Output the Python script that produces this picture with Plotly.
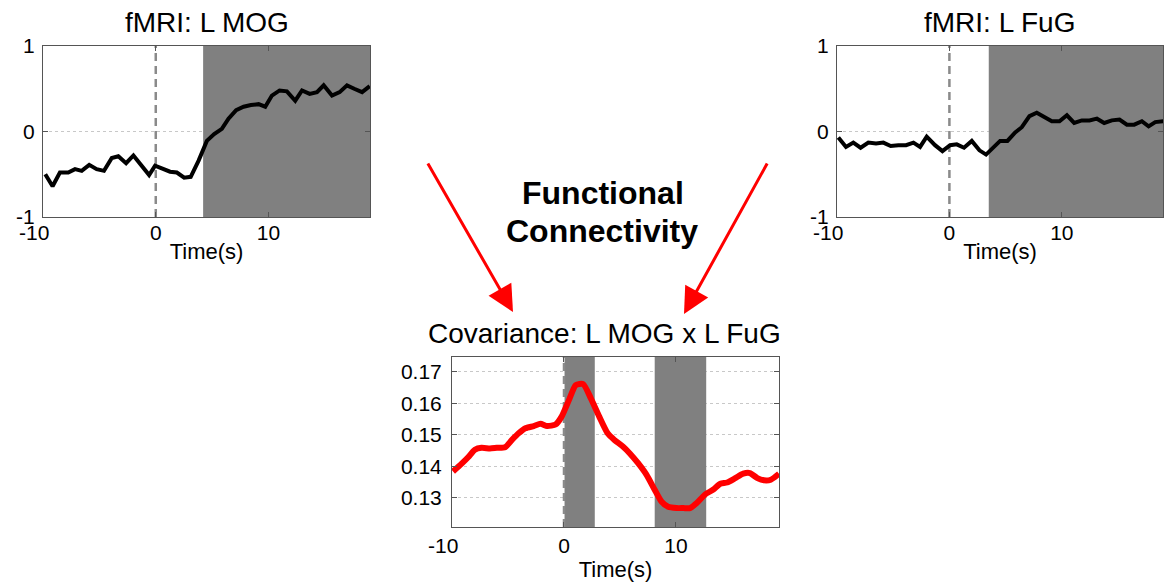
import plotly.graph_objects as go

# ---------------- data ----------------
mog_t = [-9.8, -9.15, -8.5, -7.76, -7.16, -6.57, -5.9, -5.24, -4.59, -3.9,
         -3.32, -2.63, -1.98, -1.24, -0.59, -0.06, 0.59, 1.27, 1.87, 2.52,
         3.1, 3.8, 4.53, 5.18, 5.86, 6.45, 7.13, 7.79, 8.44, 9.12,
         9.71, 10.3, 10.98, 11.63, 12.37, 12.97, 13.65, 14.3, 14.89, 15.63,
         16.31, 16.96, 17.6, 18.3, 18.98]
mog_v = [-0.50, -0.64, -0.48, -0.48, -0.44, -0.46, -0.39, -0.44, -0.46, -0.31,
         -0.29, -0.37, -0.28, -0.40, -0.51, -0.40, -0.44, -0.47, -0.48, -0.54,
         -0.53, -0.34, -0.11, -0.03, 0.03, 0.15, 0.25, 0.29, 0.31, 0.32,
         0.29, 0.42, 0.48, 0.47, 0.36, 0.48, 0.44, 0.46, 0.54, 0.42,
         0.46, 0.54, 0.50, 0.46, 0.53]

fug_t = [-9.88, -9.2, -8.55, -7.9, -7.21, -6.53, -5.88, -5.22, -4.54, -3.86,
         -3.2, -2.61, -2.02, -1.28, -0.62, 0.06, 0.65, 1.3, 1.99, 2.67,
         3.26, 3.92, 4.51, 5.16, 5.85, 6.44, 7.12, 7.77, 8.52, 9.11,
         9.79, 10.45, 11.1, 11.78, 12.46, 13.12, 13.77, 14.45, 15.13, 15.79,
         16.44, 17.12, 17.72, 18.31, 19.05]
fug_v = [-0.07, -0.18, -0.13, -0.19, -0.13, -0.14, -0.13, -0.17, -0.16, -0.16,
         -0.13, -0.18, -0.06, -0.16, -0.23, -0.16, -0.15, -0.19, -0.11, -0.22,
         -0.27, -0.18, -0.11, -0.11, -0.01, 0.05, 0.18, 0.22, 0.16, 0.12,
         0.12, 0.19, 0.10, 0.13, 0.13, 0.15, 0.10, 0.13, 0.14, 0.08,
         0.08, 0.12, 0.06, 0.11, 0.12]

cov_t = [-9.91, -9.16, -8.56, -7.96, -7.36, -6.61, -6.0, -5.26, -4.65, -4.05,
         -3.45, -2.7, -2.1, -1.5, -0.75, -0.21, 0.45, 1.05, 1.71, 2.4,
         3.15, 3.9, 4.5, 5.26, 5.86, 6.6, 7.36, 8.1, 8.7, 9.3,
         10.06, 10.66, 11.26, 11.86, 12.6, 13.3, 13.96, 14.56, 15.3, 16.0,
         16.6, 17.27, 17.87, 18.47, 19.2]
cov_v = [0.1384, 0.1408, 0.1429, 0.1453, 0.1459, 0.1457, 0.1459, 0.1461, 0.1484, 0.1505,
         0.1521, 0.1528, 0.1535, 0.1528, 0.1533, 0.1558, 0.1611, 0.1658, 0.1661, 0.1616,
         0.1558, 0.1505, 0.1484, 0.1463, 0.1442, 0.1411, 0.1374, 0.1326, 0.1289, 0.1272,
         0.1268, 0.1268, 0.1268, 0.1284, 0.1311, 0.1326, 0.1345, 0.1349, 0.1363, 0.1377,
         0.1379, 0.1363, 0.1356, 0.1358, 0.1377]

mog_bands = [(4.2, 19.0)]
fug_bands = [(3.5, 19.0)]
cov_bands = [(0.05, 2.75), (8.1, 12.7)]

onset = 0
x_ticks = [-10, 0, 10]
x_ticktext = ["-10\u00a0\u00a0\u00a0", "0", "10"]
fmri_y_ticks = [-1, 0, 1]
fmri_y_ticktext = ["-1", "0", "1"]
cov_y_ticks = [0.13, 0.14, 0.15, 0.16, 0.17]
cov_y_ticktext = ["0.13", "0.14", "0.15", "0.16", "0.17"]
fmri_ylim = [-1, 1]
cov_ylim = [0.1208, 0.1747]
fmri_xlim = [-10, 19]
cov_xlim = [-10, 19.2]

titles = ["fMRI: L MOG", "fMRI: L FuG", "Covariance: L MOG x L FuG"]
xlabel = "Time(s)"
center_lines = ["Functional", "Connectivity"]

# ---------------- figure ----------------
W, H = 1164, 587
FONT = "Liberation Sans, Arial, sans-serif"
BAND = "#808080"
AXC = "#555555"

def px(x):
    return x / W

def py(y):
    return 1 - y / H

fig = go.Figure()

def add_panel(xa, ya, bands, ylim, t, v, color, width, shape="linear"):
    for (a, b) in bands:
        fig.add_trace(go.Scatter(x=[a, b, b, a, a], y=[ylim[0], ylim[0], ylim[1], ylim[1], ylim[0]],
                                 mode="lines", fill="toself", fillcolor=BAND,
                                 line=dict(width=0, color=BAND), hoverinfo="skip",
                                 xaxis=xa, yaxis=ya, showlegend=False))
    fig.add_trace(go.Scatter(x=[onset, onset], y=ylim, mode="lines",
                             line=dict(color="#8a8a8a", width=2.5, dash="8px,5px"),
                             hoverinfo="skip", xaxis=xa, yaxis=ya, showlegend=False))
    fig.add_trace(go.Scatter(x=t, y=v, mode="lines", xaxis=xa, yaxis=ya,
                             line=dict(color=color, width=width, shape=shape,
                                       smoothing=0.6 if shape == "spline" else None),
                             showlegend=False))

add_panel("x", "y", mog_bands, fmri_ylim, mog_t, mog_v, "black", 4)
add_panel("x2", "y2", fug_bands, fmri_ylim, fug_t, fug_v, "black", 4)
add_panel("x3", "y3", cov_bands, cov_ylim, cov_t, cov_v, "#ff0000", 6, "spline")

axis_common = dict(showline=True, linecolor=AXC, linewidth=1, mirror="ticks",
                   ticks="inside", ticklen=5, tickcolor=AXC, zeroline=False, automargin=False,
                   tickfont=dict(family=FONT, size=21, color="black"))
grid = dict(showgrid=True, gridcolor="#c8c8c8", griddash="dot", gridwidth=1)
xt = dict(text=xlabel, font=dict(family=FONT, size=22, color="black"))

fig.update_layout(
    width=W, height=H, margin=dict(l=0, r=0, t=0, b=0, autoexpand=False),
    paper_bgcolor="white", plot_bgcolor="white",
    font=dict(family=FONT, color="black"),
    xaxis=dict(domain=[px(43), px(370)], range=fmri_xlim, tickvals=x_ticks, ticktext=x_ticktext,
               anchor="y", showgrid=False, ticklabelstandoff=-3,
               title=dict(standoff=0, **xt), **axis_common),
    yaxis=dict(domain=[py(217), py(46)], range=fmri_ylim, tickvals=fmri_y_ticks,
               ticktext=fmri_y_ticktext, anchor="x", ticklabelstandoff=3, **grid, **axis_common),
    xaxis2=dict(domain=[px(837), px(1163)], range=fmri_xlim, tickvals=x_ticks, ticktext=x_ticktext,
                anchor="y2", showgrid=False, ticklabelstandoff=-3,
                title=dict(standoff=0, **xt), **axis_common),
    yaxis2=dict(domain=[py(217), py(46)], range=fmri_ylim, tickvals=fmri_y_ticks,
                ticktext=fmri_y_ticktext, anchor="x2", ticklabelstandoff=3, **grid, **axis_common),
    xaxis3=dict(domain=[px(452), px(779)], range=cov_xlim, tickvals=x_ticks, ticktext=x_ticktext,
                anchor="y3", showgrid=False,
                title=dict(standoff=5, **xt), **axis_common),
    yaxis3=dict(domain=[py(527), py(357)], range=cov_ylim, tickvals=cov_y_ticks,
                ticktext=cov_y_ticktext, anchor="x3", ticklabelstandoff=5, **grid, **axis_common),
)

TF = dict(family=FONT, size=28, color="black")
CF = dict(family=FONT, size=32, color="black")
annotations = [
    dict(text=titles[0], x=px(207), y=py(22), xref="paper", yref="paper",
         showarrow=False, font=TF, xanchor="center", yanchor="middle"),
    dict(text=titles[1], x=px(1000), y=py(22), xref="paper", yref="paper",
         showarrow=False, font=TF, xanchor="center", yanchor="middle"),
    dict(text=titles[2], x=px(604.5), y=py(333), xref="paper", yref="paper",
         showarrow=False, font=TF, xanchor="center", yanchor="middle"),
    dict(text="<b>" + center_lines[0] + "</b>", x=px(602.5), y=py(193), xref="paper", yref="paper",
         showarrow=False, font=CF, xanchor="center", yanchor="middle"),
    dict(text="<b>" + center_lines[1] + "</b>", x=px(601.5), y=py(230.5), xref="paper", yref="paper",
         showarrow=False, font=CF, xanchor="center", yanchor="middle"),
    dict(text="", x=px(513), y=py(312), ax=-86, ay=-150,
         xref="paper", yref="paper", axref="pixel", ayref="pixel",
         showarrow=True, arrowhead=2, arrowsize=1.75, arrowwidth=3, arrowcolor="#ff0000"),
    dict(text="", x=px(684), y=py(314), ax=84, ay=-152,
         xref="paper", yref="paper", axref="pixel", ayref="pixel",
         showarrow=True, arrowhead=2, arrowsize=1.75, arrowwidth=3, arrowcolor="#ff0000"),
]
fig.update_layout(annotations=annotations)

fig.write_html("out.html")
